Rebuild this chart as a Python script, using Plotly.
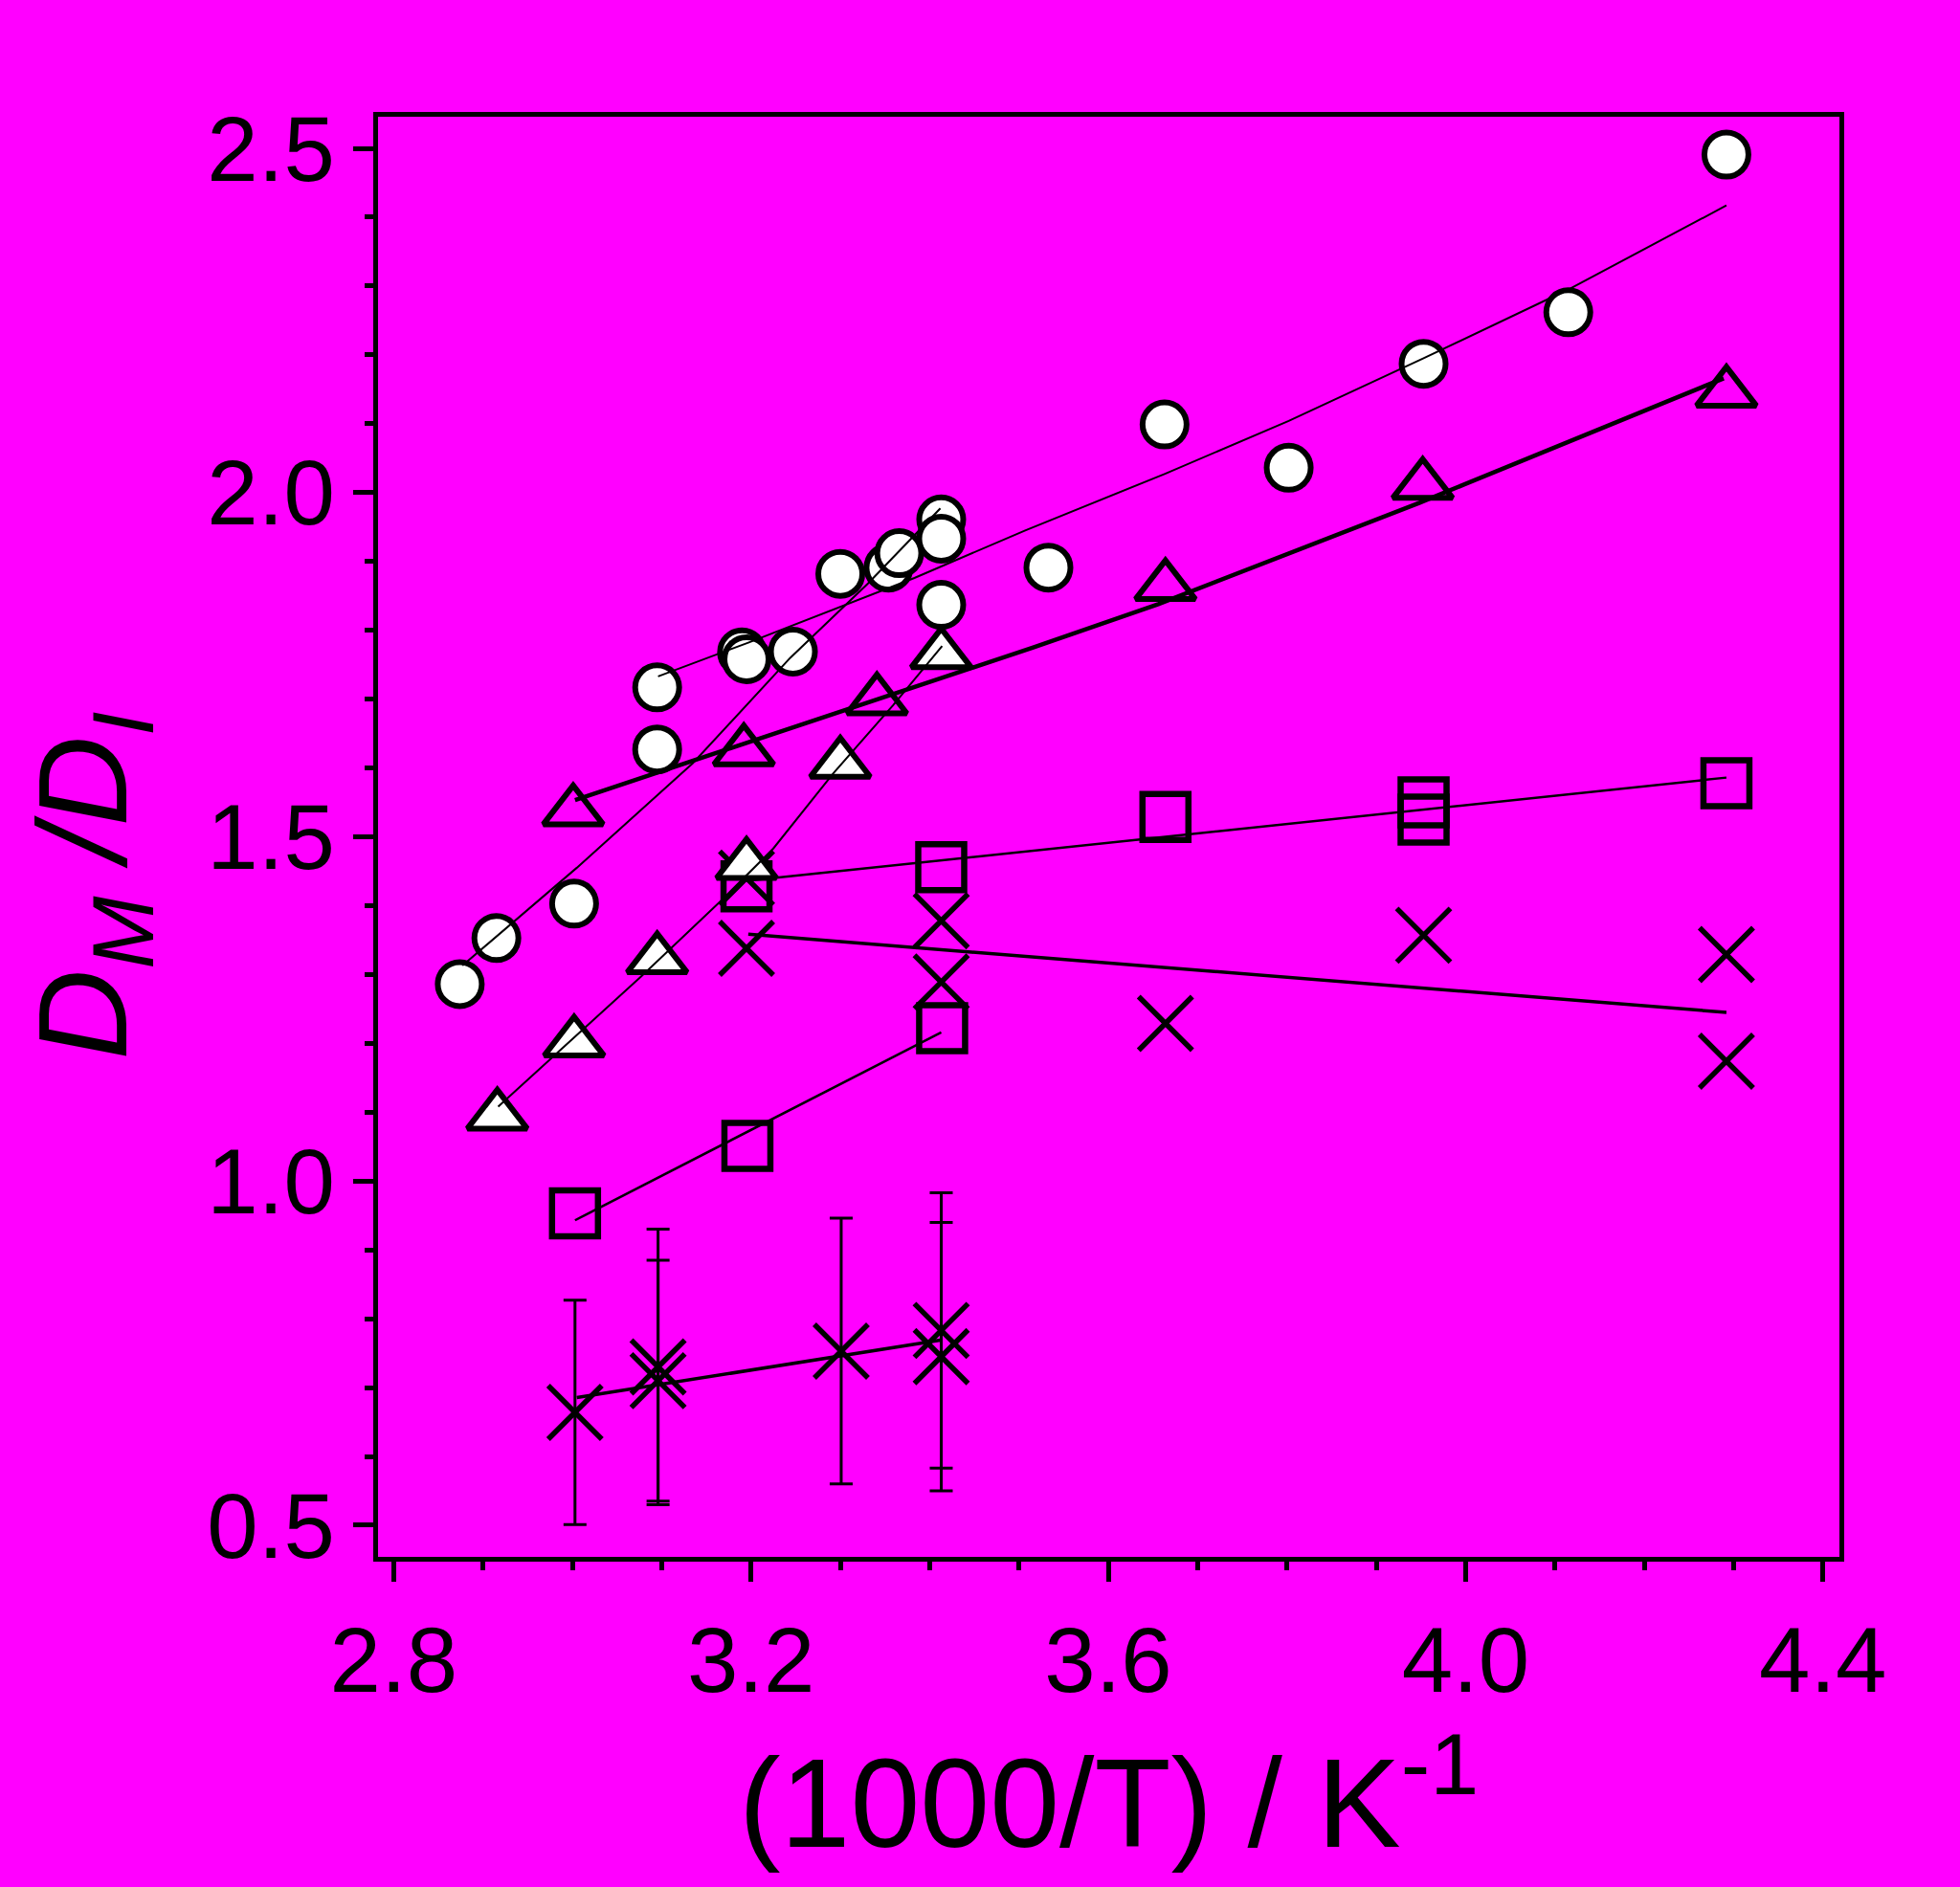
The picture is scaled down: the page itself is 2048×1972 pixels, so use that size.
import plotly.graph_objects as go

# ---------------- data ----------------
circ_x = [2.874, 2.915, 3.002, 3.095, 3.095, 3.190, 3.195, 3.247, 3.300, 3.354, 3.366,
          3.413, 3.413, 3.413, 3.533, 3.663, 3.802, 3.953, 4.115, 4.292]
circ_y = [1.286, 1.353, 1.403, 1.627, 1.717, 1.768, 1.758, 1.769, 1.882, 1.891, 1.912,
          1.961, 1.933, 1.837, 1.891, 2.099, 2.036, 2.187, 2.262, 2.491]

tri_open_x = [3.001, 3.192, 3.341, 3.664, 3.952, 4.292]
tri_open_y = [1.537, 1.624, 1.698, 1.864, 2.011, 2.145]

tri_fill_x = [2.916, 3.002, 3.095, 3.195, 3.300, 3.413]
tri_fill_y = [1.095, 1.201, 1.322, 1.459, 1.606, 1.765]

sq_up_x = [3.195, 3.413, 3.664, 3.953, 3.953, 4.292]
sq_up_y = [1.428, 1.456, 1.529, 1.550, 1.525, 1.578]

sq_lo_x = [3.003, 3.196, 3.414]
sq_lo_y = [0.953, 1.051, 1.222]

x_up_x = [3.195, 3.195, 3.413, 3.413, 3.664, 3.953, 4.292, 4.292]
x_up_y = [1.440, 1.338, 1.378, 1.289, 1.229, 1.357, 1.329, 1.174]

x_lo_x = [3.003, 3.096, 3.096, 3.301, 3.413, 3.413]
x_lo_y = [0.664, 0.730, 0.710, 0.753, 0.783, 0.745]
x_lo_err = [0.163, 0.200, 0.175, 0.193, 0.200, 0.195]

# fitted curves
fit_circ1_x = [3.096, 3.197, 3.383, 3.507, 3.663, 3.802, 3.953, 4.115, 4.292]
fit_circ1_y = [1.733, 1.782, 1.876, 1.945, 2.027, 2.104, 2.195, 2.295, 2.417]
fit_circ2_x = [2.877, 3.005, 3.135, 3.244, 3.331, 3.412]
fit_circ2_y = [1.313, 1.455, 1.607, 1.760, 1.868, 1.977]
fit_tri1_x = [3.003, 3.192, 3.516, 3.656, 3.948, 4.289]
fit_tri1_y = [1.5535, 1.635, 1.775, 1.838, 1.985, 2.166]
fit_tri2_x = [2.917, 3.077, 3.168, 3.225, 3.292, 3.359, 3.414]
fit_tri2_y = [1.108, 1.297, 1.409, 1.483, 1.592, 1.691, 1.777]
fit_sq1_x = [3.195, 4.292]
fit_sq1_y = [1.436, 1.586]
fit_sq2_x = [3.003, 3.413]
fit_sq2_y = [0.943, 1.216]
fit_x1_x = [3.197, 4.292]
fit_x1_y = [1.3585, 1.245]
fit_x2_x = [3.005, 3.412]
fit_x2_y = [0.6854, 0.7689]

x_tick0, x_dtick, x_minor = 2.8, 0.4, 0.1
y_tick0, y_dtick, y_minor = 0.5, 0.5, 0.1
x_range = [2.7825, 4.4185]
y_range = [0.4541, 2.5459]

BG = '#FF00FF'
FONT = 'Liberation Sans, Arial, sans-serif'

fig = go.Figure()


def line(x, y, w):
    fig.add_trace(go.Scatter(x=x, y=y, mode='lines',
                             line=dict(color='black', width=w), hoverinfo='skip'))


def markers(x, y, symbol, size, fill, lw, err=None):
    kw = {}
    if err is not None:
        kw['error_y'] = dict(type='data', array=err, visible=True,
                             thickness=3, width=12, color='black')
    fig.add_trace(go.Scatter(x=x, y=y, mode='markers',
                             marker=dict(symbol=symbol, size=size, color=fill,
                                         line=dict(color='black', width=lw)),
                             **kw))


# lower layers: squares and crosses
line(fit_sq1_x, fit_sq1_y, 2.5)
line(fit_sq2_x, fit_sq2_y, 2.5)
markers(x_up_x, x_up_y, 'x-thin-open', 56, 'black', 5.5)
markers(x_lo_x, x_lo_y, 'x-thin-open', 56, 'black', 5.5, err=x_lo_err)
line(fit_x1_x, fit_x1_y, 3.5)
line(fit_x2_x, fit_x2_y, 3.5)
markers(sq_up_x, sq_up_y, 'square', 48, 'rgba(0,0,0,0)', 6.5)
markers(sq_lo_x, sq_lo_y, 'square', 48, 'rgba(0,0,0,0)', 6.5)

# triangles
markers(tri_open_x, tri_open_y, 'triangle-up', 54, 'rgba(0,0,0,0)', 6)
markers(tri_fill_x, tri_fill_y, 'triangle-up', 54, 'white', 6)
line(fit_tri1_x, fit_tri1_y, 4.5)
line(fit_tri2_x, fit_tri2_y, 2)

# circles
markers(circ_x, circ_y, 'circle', 46, 'white', 6)
line(fit_circ1_x, fit_circ1_y, 2)
line(fit_circ2_x, fit_circ2_y, 2)

axis_common = dict(
    showline=True, linewidth=5, linecolor='black', mirror=True,
    ticks='outside', ticklen=21, tickwidth=5, tickcolor='black',
    showgrid=False, zeroline=False, tickformat='.1f',
    tickfont=dict(family=FONT, size=96, color='black'),
)

fig.update_xaxes(range=x_range, tickmode='linear', tick0=x_tick0, dtick=x_dtick,
                 minor=dict(tick0=x_tick0, dtick=x_minor, ticks='outside', ticklen=9,
                            tickwidth=5, tickcolor='black', showgrid=False),
                 **axis_common)
fig.update_yaxes(range=y_range, tickmode='linear', tick0=y_tick0, dtick=y_dtick,
                 minor=dict(tick0=y_tick0, dtick=y_minor, ticks='outside', ticklen=9,
                            tickwidth=5, tickcolor='black', showgrid=False),
                 **axis_common)

fig.update_layout(
    width=2048, height=1972,
    margin=dict(l=395, r=126, t=122, b=345),
    paper_bgcolor=BG, plot_bgcolor=BG,
    showlegend=False,
    font=dict(family=FONT, color='black'),
    annotations=[
        dict(text='(1000/T) / K<sup>-1</sup>', xref='paper', yref='paper',
             x=0.5, y=-0.108, xanchor='center', yanchor='top', showarrow=False,
             font=dict(family=FONT, size=131, color='black')),
        dict(text='<i>D</i><sub><i>M</i></sub><i> /D</i><sub><i>I</i></sub>',
             xref='paper', yref='paper', x=-0.196, y=0.466,
             xanchor='center', yanchor='middle', textangle=-90, showarrow=False,
             font=dict(family=FONT, size=131, color='black')),
    ],
)

fig.write_html('out.html',
               config={'displayModeBar': False},
               post_script="document.body.style.margin='0';document.body.style.padding='0';"
                           "document.body.style.overflow='hidden';")
